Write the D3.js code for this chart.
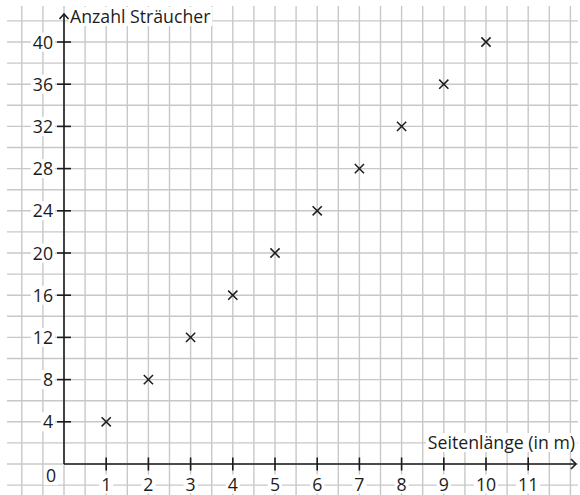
<!DOCTYPE html>
<html><head><meta charset="utf-8">
<script src="https://cdn.jsdelivr.net/npm/d3@7"></script>
<style>body{margin:0;background:#fff}svg{display:block}text{font-family:"Open Sans","Noto Sans",sans-serif;fill:#1c1c1c}</style>
</head><body>
<script>
const seitenlaenge = [1,2,3,4,5,6,7,8,9,10];
const straeucher = [4,8,12,16,20,24,28,32,36,40];
const xTicks = [1,2,3,4,5,6,7,8,9,10,11];
const yTicks = [4,8,12,16,20,24,28,32,36,40];
const xLabel = "Seitenlänge (in m)";
const yLabel = "Anzahl Sträucher";

const W = 580, H = 495;
const svg = d3.select("body").append("svg").attr("width", W).attr("height", H);
const x = d3.scaleLinear().domain([0, 11]).range([64, 64 + 11 * 42.2]);
const y = d3.scaleLinear().domain([0, 40]).range([464, 42]);

// grid
const g = svg.append("g").attr("stroke", "#c8c8c8").attr("stroke-width", 1.4);
g.selectAll("line.v").data(d3.range(-1, 12.01, 0.5)).join("line")
  .attr("x1", d => x(d)).attr("x2", d => x(d)).attr("y1", 6).attr("y2", H);
g.selectAll("line.h").data(d3.range(-2, 42.01, 2)).join("line")
  .attr("y1", d => y(d)).attr("y2", d => y(d)).attr("x1", 7).attr("x2", 578);

const ink = "#1c1c1c";
const fs = 17.7;

function labelWithBg(tx, ty, txt, anchor) {
  const t = svg.append("text").attr("x", tx).attr("y", ty).attr("text-anchor", anchor)
    .attr("font-size", fs).text(txt);
  const b = t.node().getBBox();
  svg.insert("rect", () => t.node()).attr("x", b.x - 2).attr("y", b.y + 3).attr("width", b.width + 4)
    .attr("height", b.height - 5).attr("fill", "#fff");
  return t;
}

xTicks.forEach(v => labelWithBg(x(v), 490.5, v, "middle"));
yTicks.forEach(v => labelWithBg(53, y(v) + 6.5, v, "end"));
labelWithBg(51, 482, "0", "middle");
labelWithBg(70, 23, yLabel, "start");
labelWithBg(575, 449, xLabel, "end");

// axes
const a = svg.append("g").attr("stroke", ink).attr("stroke-width", 1.6).attr("fill", "none");
a.append("line").attr("x1", x(0)).attr("x2", 576).attr("y1", y(0)).attr("y2", y(0));
a.append("line").attr("x1", x(0)).attr("x2", x(0)).attr("y1", y(0)).attr("y2", 14);
a.append("path").attr("d", `M${x(0)-4.5},${19} L${x(0)},${14} L${x(0)+4.5},${19}`);
a.append("path").attr("d", `M571,${y(0)-5} L576,${y(0)} L571,${y(0)+5}`);
a.selectAll("line.xt").data(xTicks).join("line")
  .attr("x1", d => x(d)).attr("x2", d => x(d)).attr("y1", y(0) - 6.5).attr("y2", y(0) + 6.5);
a.selectAll("line.yt").data(yTicks).join("line")
  .attr("y1", d => y(d)).attr("y2", d => y(d)).attr("x1", x(0) - 7).attr("x2", x(0) + 7);

// crosses
const c = svg.append("g").attr("stroke", ink).attr("stroke-width", 1.5);
const s = 4.6;
seitenlaenge.forEach((v, i) => {
  const cx = x(v), cy = y(straeucher[i]);
  c.append("path").attr("d", `M${cx-s},${cy-s}L${cx+s},${cy+s}M${cx-s},${cy+s}L${cx+s},${cy-s}`);
});
</script>
</body></html>
